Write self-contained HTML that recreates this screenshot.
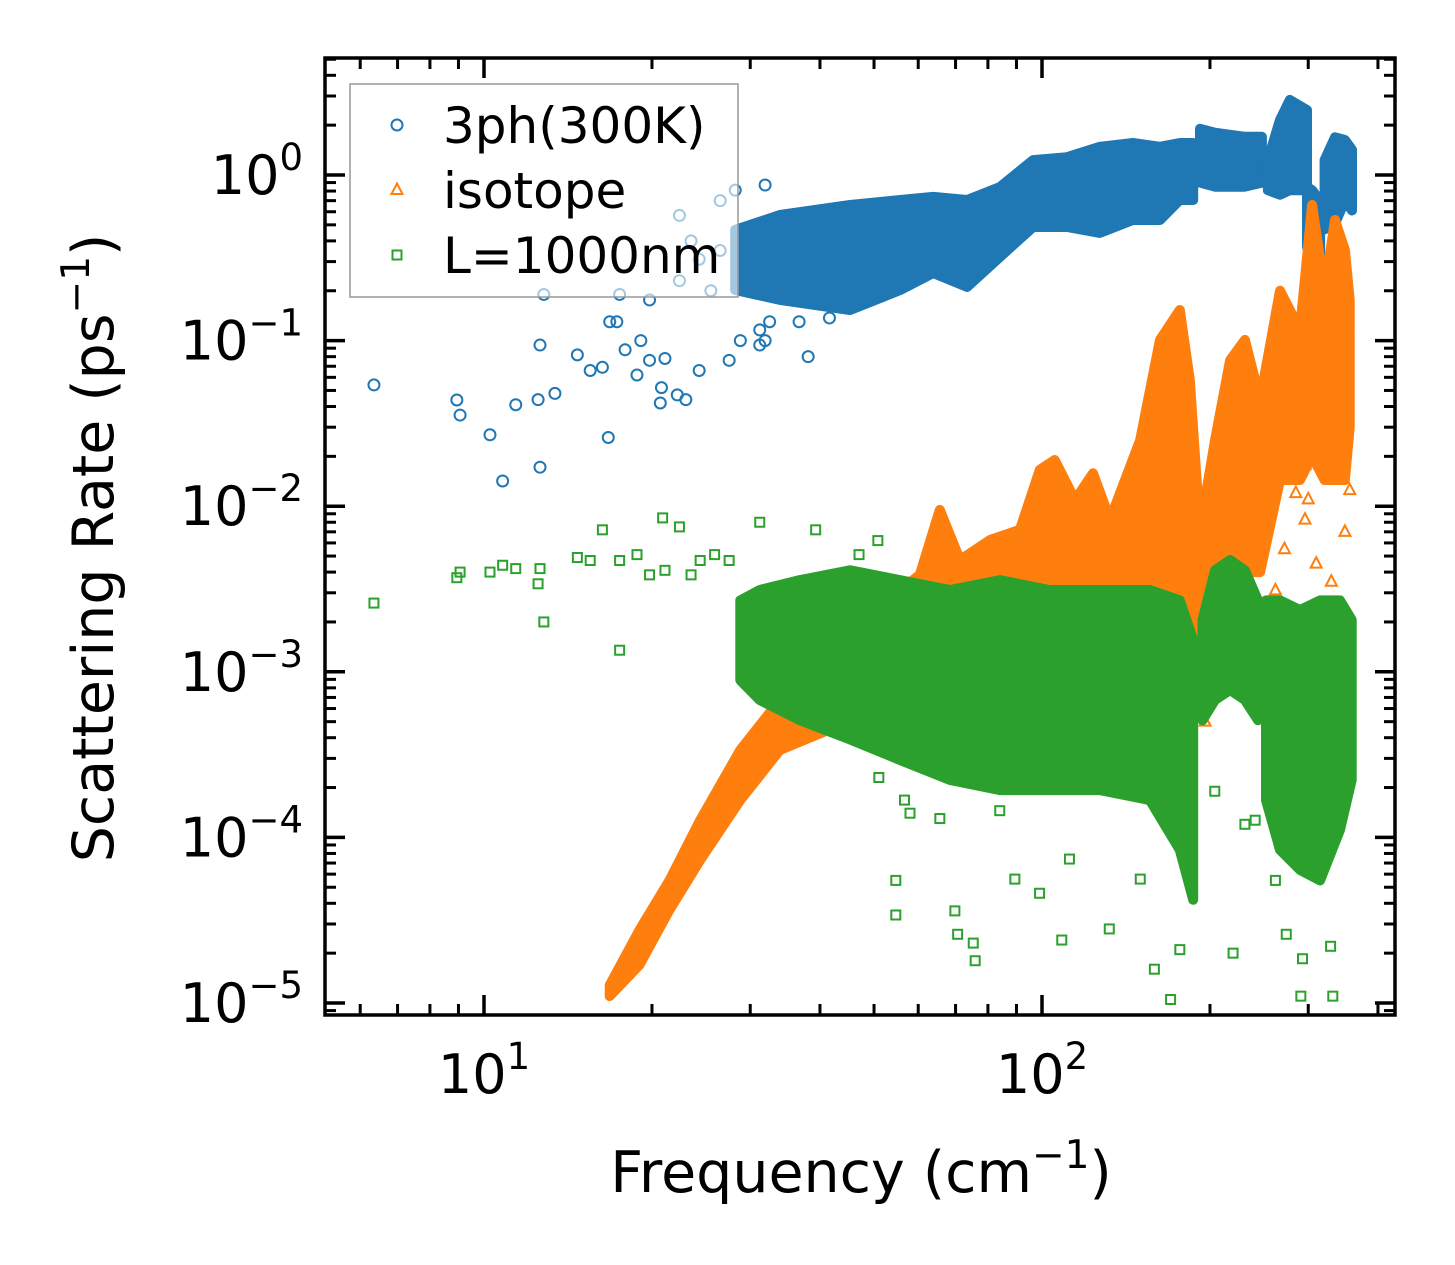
<!DOCTYPE html>
<html><head><meta charset="utf-8"><style>
html,body{margin:0;padding:0;background:#fff;}
svg{display:block;font-family:"DejaVu Sans","Liberation Sans",sans-serif;}
</style></head><body>
<svg id="chart" width="1455" height="1265" viewBox="0 0 1455 1265" xmlns="http://www.w3.org/2000/svg">
<rect x="0" y="0" width="1455" height="1265" fill="#fff"/>
<g id="plot"></g>
<g id="axes"></g>
</svg>
<script>
// ---------- data ----------
const blueBandF  = [28.2,33.9,45.3,55.7,63.8,73.4,84.1,96.4,110.9,127,145.5,162.7,176.6,186.6,null,191.9,204.2,217.3,231,247.8,null,254,267,278,298.5,null,298.5,304.8,315,null,321,335,349,359.4];
const blueBandHi = [0.466,0.573,0.659,0.706,0.737,0.706,0.846,1.23,1.28,1.48,1.56,1.48,1.56,1.56,null,1.9,1.8,1.75,1.7,1.7,null,1.23,2.15,2.84,2.47,null,0.85,0.81,0.7,null,1.23,1.69,1.63,1.42];
const blueBandLo = [0.202,0.176,0.153,0.202,0.256,0.211,0.320,0.485,0.485,0.447,0.535,0.535,0.706,0.706,null,0.9,0.85,0.85,0.85,0.9,null,0.81,0.76,0.81,0.81,null,0.37,0.28,0.3,null,0.47,0.51,0.7,0.61];
const blueF = [6.35,8.94,9.06,10.25,10.8,11.4,12.5,12.6,12.6,12.8,13.4,14.7,15.5,16.3,16.7,17.3,17.5,17.9,18.8,19.8,20.7,20.8,21.1,22.2,22.4,23.0,24.3,27.5,38.1,28.8,31.2,31.9,24.3,19.8,22.4,26.5,23.5,25.5,16.8,19.1,26.5,28.2,31.9,32.5,36.7,41.6,31.2];
const blueV = [0.054,0.0438,0.0355,0.027,0.0142,0.041,0.044,0.094,0.0172,0.19,0.048,0.082,0.066,0.069,0.026,0.13,0.19,0.088,0.062,0.076,0.042,0.052,0.078,0.047,0.57,0.044,0.066,0.076,0.080,0.1,0.116,0.1,0.31,0.176,0.23,0.35,0.4,0.2,0.13,0.1,0.7,0.81,0.87,0.13,0.13,0.137,0.094];
const orangeBandF  = [16.8,19.0,21.5,24.4,28.8,33.9,41.7,49.2,55.7,60.4,65.6,71.3,80.7,91.3,99.1,105.4,114.6,123.4,132.4,149.9,162.7,176.6,184,191.9,204.2,217.3,231,246,267,290,304.8,321,335,349,356];
const orangeBandHi = [1.28e-5,2.76e-5,5.5e-5,1.27e-4,3.37e-4,6.76e-4,1.17e-3,2.06e-3,3.12e-3,3.85e-3,9.5e-3,4.73e-3,6.25e-3,7.2e-3,0.0166,0.019,0.0109,0.0158,8.3e-3,0.025,0.101,0.153,0.058,7.2e-3,0.025,0.076,0.101,0.0438,0.2,0.116,0.659,0.2,0.535,0.352,0.176];
const orangeBandLo = [1.1e-5,1.7e-5,3.65e-5,7.3e-5,1.68e-4,3.37e-4,4.5e-4,5.1e-4,6e-4,8e-4,1e-3,1e-3,1e-3,1e-3,1e-3,1e-3,1e-3,1e-3,1e-3,1e-3,1e-3,1e-3,1e-3,1e-3,2.7e-3,4e-3,4e-3,4e-3,0.0144,0.0144,0.02,0.0144,0.0144,0.0144,0.03];
const orangeF = [236,296,296,262,356,349,204,272,300,166,172,330,355,240,310,285,196,198];
const orangeV = [0.0177,8.3e-3,0.0177,3.1e-3,0.0125,7e-3,3.1e-3,5.5e-3,0.011,8.3e-3,6e-3,3.5e-3,4e-4,9e-3,4.5e-3,0.012,5e-4,7e-4];
const greenBandF  = [28.8,31.2,36.8,45.3,55.7,68.4,84.1,103,127,156,176.6,186.6,null,193.9,204.2,217.3,231,243.8,null,252,267,290,315,342,359];
const greenBandHi = [2.7e-3,3.12e-3,3.58e-3,4.1e-3,3.58e-3,3.12e-3,3.58e-3,3.12e-3,3.12e-3,3.12e-3,2.7e-3,1.56e-3,null,2.06e-3,4.1e-3,4.73e-3,4.1e-3,2.7e-3,null,2.7e-3,2.7e-3,2.36e-3,2.7e-3,2.7e-3,2.06e-3];
const greenBandLo = [8.9e-4,6.76e-4,5.1e-4,3.9e-4,2.93e-4,2.22e-4,1.93e-4,1.93e-4,1.93e-4,1.68e-4,8.4e-5,4.2e-5,null,5.1e-4,6.76e-4,7.76e-4,6.76e-4,5.1e-4,null,1.68e-4,8.4e-5,6.36e-5,5.5e-5,1.11e-4,2.22e-4];
const greenF = [6.35,8.94,9.06,10.25,10.8,11.4,12.6,12.8,12.5,14.7,15.5,16.3,17.5,17.5,18.8,19.8,20.9,21.1,22.4,23.5,24.4,25.9,27.5,31.2,39.3,47,50.8,54.7,54.7,69.8,70.6,75.3,75.9,99,108.5,132,159,170,176.6,220,291,332,329,293,51,56.7,58,65.6,84,89.4,112,150,204,231,241,262,278,274];
const greenV = [2.6e-3,3.7e-3,4e-3,4e-3,4.4e-3,4.2e-3,4.2e-3,2e-3,3.4e-3,4.9e-3,4.7e-3,7.2e-3,1.35e-3,4.7e-3,5.1e-3,3.85e-3,8.5e-3,4.1e-3,7.5e-3,3.85e-3,4.7e-3,5.1e-3,4.7e-3,8e-3,7.2e-3,5.1e-3,6.2e-3,5.5e-5,3.4e-5,3.6e-5,2.6e-5,2.3e-5,1.8e-5,4.6e-5,2.4e-5,2.8e-5,1.6e-5,1.05e-5,2.1e-5,2e-5,1.1e-5,1.1e-5,2.2e-5,1.85e-5,2.3e-4,1.68e-4,1.4e-4,1.3e-4,1.45e-4,5.6e-5,7.4e-5,5.6e-5,1.9e-4,1.2e-4,1.27e-4,5.5e-5,8.4e-5,2.6e-5];
const xMajor = [10,100];
const xMajorLabels = ["1","2"];
const yMajor = [1e-5,1e-4,1e-3,1e-2,1e-1,1];
const yMajorLabels = ["\u22125","\u22124","\u22123","\u22122","\u22121","0"];

// ---------- axes functions ----------
const L=325,R=1395,T=58,B=1015;
const X = f => 484 + 558*Math.log10(f/10);
const Y = v => 175 - 165.6*Math.log10(v);
const NS="http://www.w3.org/2000/svg";
const plot=document.getElementById('plot'), axes=document.getElementById('axes');
function mk(tag,attrs,parent){const e=document.createElementNS(NS,tag);for(const k in attrs)e.setAttribute(k,attrs[k]);parent.appendChild(e);return e;}

const clip=mk('clipPath',{id:'clp'},document.getElementById('chart'));
mk('rect',{x:L,y:T,width:R-L,height:B-T},clip);
plot.setAttribute('clip-path','url(#clp)');

function band(F,H,Lo,color,name){
  let seg=[];
  const flush=()=>{ if(seg.length){
    const top=seg.map(i=>X(F[i]).toFixed(1)+','+Y(H[i]).toFixed(1));
    const bot=seg.slice().reverse().map(i=>X(F[i]).toFixed(1)+','+Y(Lo[i]).toFixed(1));
    const p=mk('polygon',{points:top.concat(bot).join(' '),fill:color,stroke:color,'stroke-width':10,'stroke-linejoin':'round'},plot);
    
    
  } seg=[]; };
  for(let i=0;i<F.length;i++){ if(F[i]===null) flush(); else seg.push(i); }
  flush();
}
function marker(type,x,y,color,parent){
  let e;
  if(type==='o') e=mk('circle',{cx:x,cy:y,r:5.5,fill:'none',stroke:color,'stroke-width':2},parent);
  else if(type==='^') e=mk('polygon',{points:`${x},${y-6.5} ${x+5.5},${y+4} ${x-5.5},${y+4}`,fill:'none',stroke:color,'stroke-width':2},parent);
  else e=mk('rect',{x:x-4.5,y:y-4.5,width:9,height:9,fill:'none',stroke:color,'stroke-width':2},parent);
  return e;
}
function pts(F,V,type,color){
  for(let i=0;i<F.length;i++){
    const e=marker(type,X(F[i]),Y(V[i]),color,plot);
    
    
  }
}
band(blueBandF,blueBandHi,blueBandLo,'#1f77b4','3ph-dense-band');
pts(blueF,blueV,'o','#1f77b4');
band(orangeBandF,orangeBandHi,orangeBandLo,'#ff7f0e','isotope-dense-band');
pts(orangeF,orangeV,'^','#ff7f0e');
band(greenBandF,greenBandHi,greenBandLo,'#2ca02c','boundary-dense-band');
pts(greenF,greenV,'s','#2ca02c');

// legend
const lg=mk('g',{},axes);


mk('rect',{x:350,y:84,width:388,height:213,fill:'#fff','fill-opacity':0.6,stroke:'#999','stroke-width':1.5},lg);
const legItems=[['o','#1f77b4','3ph(300K)',125],['^','#ff7f0e','isotope',190],['s','#2ca02c','L=1000nm',255]];
legItems.forEach(it=>{
  const g=mk('g',{},lg);
  
  
  marker(it[0],397,it[3],it[1],g);
  const t=mk('text',{x:443,y:it[3]+18,'font-size':50,fill:'#000'},g);
  t.textContent=it[2];
});

// frame & ticks
mk('rect',{x:L,y:T,width:R-L,height:B-T,fill:'none',stroke:'#000','stroke-width':3.5},axes);
function tick(x1,y1,x2,y2,w){mk('line',{x1,y1,x2,y2,stroke:'#000','stroke-width':w||3},axes);}
const minorX=[6,7,8,9,20,30,40,50,60,70,80,90,200,300,400];
minorX.forEach(f=>{const x=X(f);tick(x,B,x,B-11);tick(x,T,x,T+11);});
xMajor.forEach((f,i)=>{const x=X(f);tick(x,B,x,B-20,3.5);tick(x,T,x,T+20,3.5);
  const t=mk('text',{x:x,y:1093,'font-size':54,'text-anchor':'middle'},axes);
  
  t.innerHTML='10<tspan dy="-24" font-size="37">'+xMajorLabels[i]+'</tspan>';});
yMajor.forEach((v,i)=>{const y=Y(v);tick(L,y,L+20,y,3.5);tick(R,y,R-20,y,3.5);
  for(let m=2;m<10;m++){const yy=Y(v*m); if(yy>T&&yy<B){tick(L,yy,L+11,yy);tick(R,yy,R-11,yy);}}
  const t=mk('text',{x:303,y:y+19,'font-size':54,'text-anchor':'end'},axes);
  
  t.innerHTML='10<tspan dy="-24" font-size="37">'+yMajorLabels[i]+'</tspan>';});
tick(L,Y(9e-6),L+11,Y(9e-6));tick(R,Y(9e-6),R-11,Y(9e-6));

const xt=mk('text',{x:861,y:1192,'font-size':57,'text-anchor':'middle'},axes);

xt.innerHTML='Frequency (cm<tspan dy="-24" font-size="39">\u22121</tspan><tspan dy="24">)</tspan>';
const yt=mk('text',{x:0,y:0,'font-size':57,'text-anchor':'middle',transform:'translate(113,548) rotate(-90)'},axes);

yt.innerHTML='Scattering Rate (ps<tspan dy="-24" font-size="39">\u22121</tspan><tspan dy="24">)</tspan>';
</script>
</body></html>
